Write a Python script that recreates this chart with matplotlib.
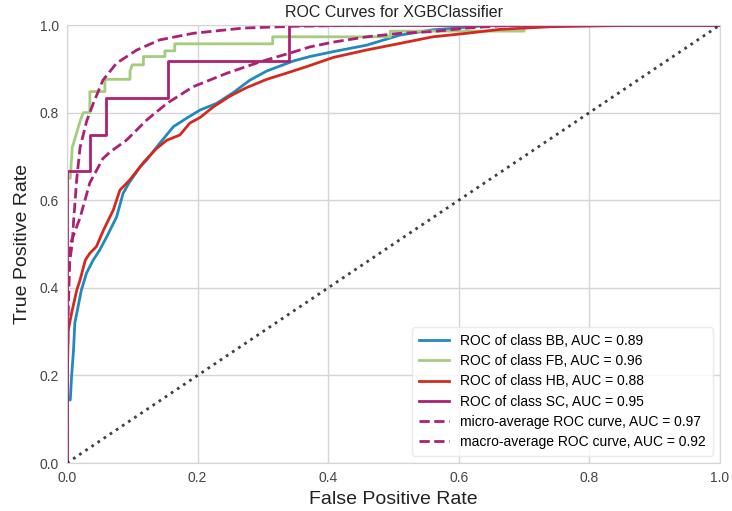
import matplotlib
matplotlib.use("Agg")
import matplotlib.pyplot as plt

plt.rcParams['font.family'] = ['Liberation Sans', 'DejaVu Sans']

# ROC curves (fpr, tpr)
bb_fpr = [0.0, 0.0, 0.005, 0.007, 0.01, 0.012, 0.017, 0.022, 0.03, 0.04, 0.05, 0.061, 0.076,
          0.086, 0.096, 0.112, 0.122, 0.142, 0.163, 0.183, 0.204, 0.229, 0.255, 0.28, 0.306,
          0.347, 0.372, 0.407, 0.459, 0.51, 0.56, 0.622, 0.65, 1.0]
bb_tpr = [0.0, 0.144, 0.144, 0.197, 0.258, 0.32, 0.357, 0.395, 0.434, 0.463, 0.486, 0.517, 0.562,
          0.616, 0.642, 0.676, 0.692, 0.73, 0.768, 0.787, 0.806, 0.821, 0.846, 0.874, 0.895,
          0.918, 0.928, 0.939, 0.954, 0.977, 0.989, 0.996, 1.0, 1.0]

fb_fpr = [0.0, 0.0, 0.005, 0.008, 0.012, 0.02, 0.025, 0.035, 0.035, 0.058, 0.058, 0.0965, 0.0965,
          0.1, 0.117, 0.117, 0.15, 0.15, 0.165, 0.165, 0.315, 0.315, 0.495, 0.495, 0.70, 0.70, 1.0]
fb_tpr = [0.0, 0.65, 0.65, 0.72, 0.74, 0.78, 0.80, 0.80, 0.848, 0.848, 0.876, 0.876, 0.895,
          0.909, 0.909, 0.928, 0.928, 0.941, 0.941, 0.957, 0.957, 0.973, 0.973, 0.986, 0.986, 1.0, 1.0]

hb_fpr = [0.0, 0.0, 0.002, 0.007, 0.015, 0.02, 0.028, 0.035, 0.045, 0.056, 0.071, 0.081, 0.096,
          0.117, 0.137, 0.153, 0.173, 0.188, 0.204, 0.224, 0.25, 0.275, 0.306, 0.336, 0.367,
          0.408, 0.459, 0.51, 0.56, 0.612, 0.663, 0.74, 0.893, 1.0]
hb_tpr = [0.0, 0.167, 0.304, 0.342, 0.395, 0.418, 0.463, 0.479, 0.494, 0.532, 0.578, 0.623, 0.646,
          0.686, 0.718, 0.737, 0.749, 0.776, 0.789, 0.813, 0.838, 0.857, 0.876, 0.89, 0.905,
          0.926, 0.943, 0.958, 0.973, 0.981, 0.990, 0.996, 1.0, 1.0]

sc_fpr = [0.0, 0.0, 0.035, 0.035, 0.059, 0.059, 0.154, 0.154, 0.34, 0.34, 1.0]
sc_tpr = [0.0, 0.667, 0.667, 0.75, 0.75, 0.833, 0.833, 0.917, 0.917, 1.0, 1.0]

micro_fpr = [0.0, 0.0, 0.003, 0.008, 0.01, 0.015, 0.02, 0.03, 0.04, 0.055, 0.076, 0.107, 0.142,
             0.193, 0.27, 0.346, 0.49, 1.0]
micro_tpr = [0.0, 0.35, 0.45, 0.5, 0.55, 0.65, 0.72, 0.78, 0.82, 0.874, 0.913, 0.943, 0.966,
             0.981, 0.993, 0.997, 1.0, 1.0]

macro_fpr = [0.0, 0.0, 0.002, 0.005, 0.02, 0.035, 0.055, 0.066, 0.091, 0.122, 0.153, 0.193, 0.245,
             0.296, 0.346, 0.372, 0.408, 0.459, 0.51, 0.56, 0.612, 0.663, 0.75, 1.0]
macro_tpr = [0.0, 0.17, 0.35, 0.5, 0.56, 0.64, 0.695, 0.71, 0.737, 0.783, 0.821, 0.859, 0.89,
             0.916, 0.938, 0.95, 0.961, 0.973, 0.981, 0.985, 0.993, 0.998, 1.0, 1.0]

labels = ["ROC of class BB, AUC = 0.89", "ROC of class FB, AUC = 0.96",
          "ROC of class HB, AUC = 0.88", "ROC of class SC, AUC = 0.95"]
colors = ["#1f8ac0", "#a3cc7e", "#d42a1e", "#ad2173"]

fig = plt.figure(figsize=(7.32, 5.11), dpi=100)
ax = fig.add_axes([67 / 732, 48 / 511, 653 / 732, 438 / 511])

curves = [(bb_fpr, bb_tpr), (fb_fpr, fb_tpr), (hb_fpr, hb_tpr), (sc_fpr, sc_tpr)]
for (fpr, tpr), lab, col in zip(curves, labels, colors):
    ax.plot(fpr, tpr, color=col, lw=2, label=lab)

ax.plot(micro_fpr, micro_tpr, color=colors[3], ls="--", lw=2,
        label="micro-average ROC curve, AUC = 0.97")
ax.plot(macro_fpr, macro_tpr, color=colors[3], ls="--", lw=2,
        label="macro-average ROC curve, AUC = 0.92")

# diagonale
ax.plot([0, 1], [0, 1], ls=":", color="#111111", alpha=0.8, lw=2)

ax.set_xlim(0, 1)
ax.set_ylim(0, 1)
ax.set_xticks([0.0, 0.2, 0.4, 0.6, 0.8, 1.0])
ax.set_yticks([0.0, 0.2, 0.4, 0.6, 0.8, 1.0])
ax.grid(True, color="#d5d5d5", lw=1)
ax.set_axisbelow(True)
for s in ax.spines.values():
    s.set_color("#d5d5d5")
ax.tick_params(length=0, labelsize=10, labelcolor="#444444", pad=6)

ax.set_title("ROC Curves for XGBClassifier", fontsize=11.5, color="#222222", pad=6)
ax.set_xlabel("False Positive Rate", fontsize=14, color="#222222", labelpad=4)
ax.set_ylabel("True Positive Rate", fontsize=14, color="#222222", labelpad=6)

leg = ax.legend(loc="lower right", fontsize=10, frameon=True, framealpha=0.8,
                edgecolor="#e5e5e5", borderpad=0.5, handlelength=2.2, labelspacing=0.45)

fig.savefig("out.png", dpi=100, facecolor="white")
